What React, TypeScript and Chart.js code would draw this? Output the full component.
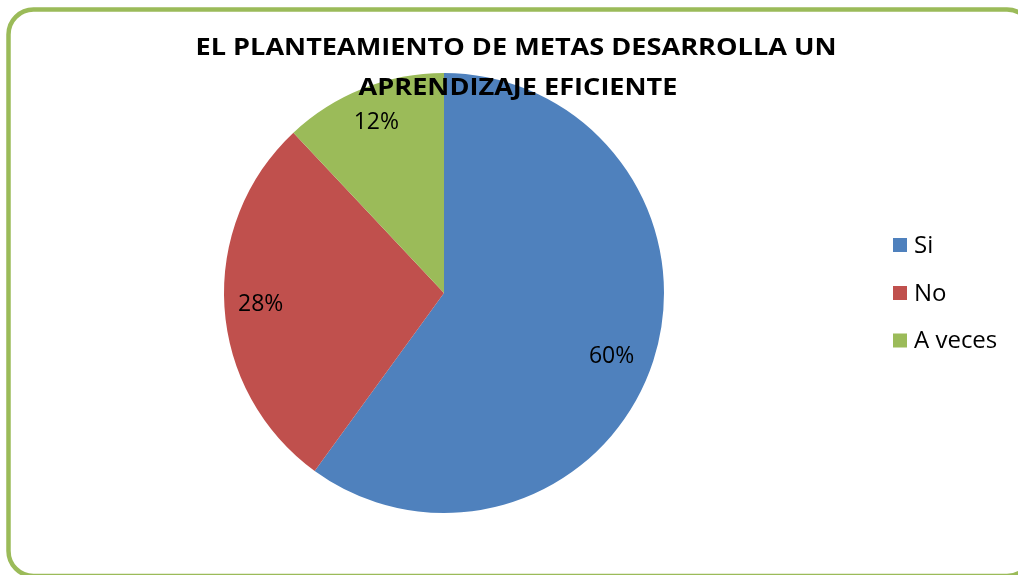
import React, { useEffect, useRef } from "react";
import { Chart, registerables } from "chart.js";

Chart.register(...registerables);

const TITLE_LINES = ["EL PLANTEAMIENTO DE METAS DESARROLLA UN", "APRENDIZAJE EFICIENTE"];
const CATEGORIES = ["Si", "No", "A veces"];
const VALUES = [60, 28, 12];
const COLORS = ["#4F81BD", "#C0504D", "#9BBB59"];
const FRAME_COLOR = "#9BBB59";
const FONT = "'Open Sans', 'DejaVu Sans', sans-serif";

const decorPlugin = {
  id: "decor",
  beforeDraw(chart: any) {
    const ctx = chart.ctx;
    ctx.save();
    ctx.fillStyle = "#ffffff";
    ctx.fillRect(0, 0, chart.width, chart.height);
    const x = 8.5, y = 9.5, w = 1032 - 8.5, h = 576 - 9.5, r = 25;
    ctx.beginPath();
    ctx.moveTo(x + r, y);
    ctx.lineTo(x + w - r, y);
    ctx.arcTo(x + w, y, x + w, y + r, r);
    ctx.lineTo(x + w, y + h - r);
    ctx.arcTo(x + w, y + h, x + w - r, y + h, r);
    ctx.lineTo(x + r, y + h);
    ctx.arcTo(x, y + h, x, y + h - r, r);
    ctx.lineTo(x, y + r);
    ctx.arcTo(x, y, x + r, y, r);
    ctx.closePath();
    ctx.strokeStyle = FRAME_COLOR;
    ctx.lineWidth = 4.5;
    ctx.stroke();
    ctx.restore();
  },
  afterDatasetsDraw(chart: any) {
    const ctx = chart.ctx;
    ctx.save();
    const meta = chart.getDatasetMeta(0);
    const total = VALUES.reduce((a, b) => a + b, 0);
    ctx.font = `23px ${FONT}`;
    ctx.fillStyle = "#000000";
    ctx.textAlign = "center";
    ctx.textBaseline = "middle";
    meta.data.forEach((arc: any, i: number) => {
      const p = arc.getProps(["x", "y", "startAngle", "endAngle", "outerRadius"], true);
      const mid = (p.startAngle + p.endAngle) / 2 + (i === 0 ? 0.05 : 0);
      const rr = p.outerRadius * (i === 0 ? 0.815 : 0.835);
      const lx = p.x + Math.cos(mid) * rr;
      const ly = p.y + Math.sin(mid) * rr;
      ctx.fillText(Math.round((VALUES[i] / total) * 100) + "%", lx, ly);
    });
    // title, condensed horizontally to mimic a narrow bold face
    ctx.font = `bold 23px ${FONT}`;
    const targetW = 641;
    const measured = ctx.measureText(TITLE_LINES[0]).width;
    const sx = targetW / measured;
    const drawLine = (t: string, cx: number, cy: number) => {
      ctx.save();
      ctx.translate(cx, cy);
      ctx.scale(sx, 1);
      ctx.fillText(t, 0, 0);
      ctx.restore();
    };
    drawLine(TITLE_LINES[0], 516, 48);
    drawLine(TITLE_LINES[1], 518, 88);
    // legend
    ctx.font = `24px ${FONT}`;
    ctx.textAlign = "left";
    const ys = [245, 293, 340.5];
    CATEGORIES.forEach((c, i) => {
      ctx.fillStyle = COLORS[i];
      ctx.fillRect(893, ys[i] - 7, 14, 14);
      ctx.fillStyle = "#000000";
      ctx.fillText(c, 914, ys[i] + 1);
    });
    ctx.restore();
  },
};

export default function App() {
  const ref = useRef<HTMLCanvasElement>(null);
  useEffect(() => {
    document.body.style.margin = "0";
    const chart = new Chart(ref.current!, {
      type: "pie",
      data: {
        labels: CATEGORIES,
        datasets: [
          {
            data: VALUES,
            backgroundColor: COLORS,
            borderWidth: 0,
            hoverOffset: 0,
          },
        ],
      },
      options: {
        animation: false,
        responsive: false,
        radius: 220,
        layout: { padding: { left: 224, right: 354, top: 73, bottom: 62 } },
        plugins: {
          legend: { display: false },
          title: { display: false },
          tooltip: { enabled: false },
        },
      } as any,
      plugins: [decorPlugin],
    });
    return () => chart.destroy();
  }, []);
  return (
    <div style={{ position: "absolute", left: 0, top: 0, width: 1018, height: 575 }}>
      <canvas ref={ref} width={1018} height={575} style={{ width: 1018, height: 575, display: "block" }} />
    </div>
  );
}
